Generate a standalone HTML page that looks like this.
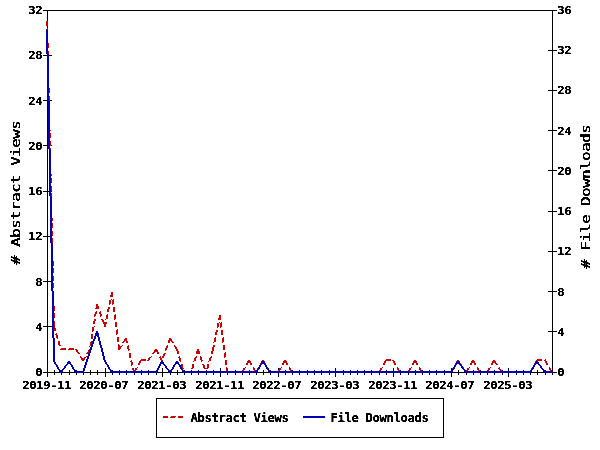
<!DOCTYPE html>
<html><head><meta charset="utf-8"><title>Usage statistics</title>
<style>html,body{margin:0;padding:0;background:#fff}svg{display:block;will-change:transform}text{fill:#000;text-anchor:middle}
.t{font-family:"DejaVu Sans Mono", "Liberation Mono", monospace;font-size:11px;font-weight:bold;stroke:#000;stroke-width:0.15px;}
.l{font-family:"DejaVu Sans Mono", "Liberation Mono", monospace;font-size:11.8px;font-weight:bold;stroke:#000;stroke-width:0.15px;}
.a{font-family:"DejaVu Sans Mono", "Liberation Mono", monospace;font-size:13px;font-weight:normal;stroke:#000;stroke-width:0.35px;}
</style></head>
<body><svg width="600" height="450" viewBox="0 0 600 450">
<defs><filter id="tf" x="0" y="0" width="600" height="450" filterUnits="userSpaceOnUse"><feComponentTransfer><feFuncA type="linear" slope="3" intercept="-0.9"/></feComponentTransfer></filter></defs>
<rect width="600" height="450" fill="#fff"/>
<path d="M43 10h514v1h-514zM47 11h1v44h-1zM552 11h1v39h-1zM548 50h9v1h-9zM552 51h1v39h-1zM43 55h9v1h-9zM47 56h1v44h-1zM548 90h9v1h-9zM552 91h1v39h-1zM43 100h9v1h-9zM47 101h1v44h-1zM548 130h9v1h-9zM552 131h1v39h-1zM43 145h9v1h-9zM47 146h1v45h-1zM548 170h9v1h-9zM552 171h1v40h-1zM43 191h9v1h-9zM47 192h1v44h-1zM548 211h9v1h-9zM552 212h1v39h-1zM43 236h9v1h-9zM47 237h1v44h-1zM548 251h9v1h-9zM552 252h1v39h-1zM43 281h9v1h-9zM47 282h1v44h-1zM548 291h9v1h-9zM552 292h1v39h-1zM43 326h9v1h-9zM47 327h1v45h-1zM548 331h9v1h-9zM552 332h1v40h-1zM105 368h1v4h-1zM162 368h1v4h-1zM220 368h1v4h-1zM278 368h1v4h-1zM335 368h1v4h-1zM393 368h1v4h-1zM451 368h1v4h-1zM508 368h1v4h-1zM54 370h1v2h-1zM61 370h1v2h-1zM69 370h1v2h-1zM76 370h1v2h-1zM83 370h1v2h-1zM90 370h1v2h-1zM97 370h1v2h-1zM112 370h1v2h-1zM119 370h1v2h-1zM126 370h1v2h-1zM134 370h1v2h-1zM141 370h1v2h-1zM148 370h1v2h-1zM156 370h1v2h-1zM170 370h1v2h-1zM177 370h1v2h-1zM184 370h1v2h-1zM191 370h1v2h-1zM198 370h1v2h-1zM206 370h1v2h-1zM213 370h1v2h-1zM227 370h1v2h-1zM235 370h1v2h-1zM242 370h1v2h-1zM249 370h1v2h-1zM256 370h1v2h-1zM263 370h1v2h-1zM270 370h1v2h-1zM285 370h1v2h-1zM292 370h1v2h-1zM299 370h1v2h-1zM307 370h1v2h-1zM314 370h1v2h-1zM321 370h1v2h-1zM329 370h1v2h-1zM343 370h1v2h-1zM350 370h1v2h-1zM357 370h1v2h-1zM364 370h1v2h-1zM371 370h1v2h-1zM379 370h1v2h-1zM386 370h1v2h-1zM400 370h1v2h-1zM408 370h1v2h-1zM415 370h1v2h-1zM422 370h1v2h-1zM429 370h1v2h-1zM436 370h1v2h-1zM444 370h1v2h-1zM458 370h1v2h-1zM466 370h1v2h-1zM473 370h1v2h-1zM480 370h1v2h-1zM487 370h1v2h-1zM494 370h1v2h-1zM502 370h1v2h-1zM516 370h1v2h-1zM523 370h1v2h-1zM530 370h1v2h-1zM537 370h1v2h-1zM545 370h1v2h-1zM43 372h514v1h-514zM47 373h1v4h-1zM54 373h1v2h-1zM61 373h1v2h-1zM69 373h1v2h-1zM76 373h1v2h-1zM83 373h1v2h-1zM90 373h1v2h-1zM97 373h1v2h-1zM105 373h1v4h-1zM112 373h1v2h-1zM119 373h1v2h-1zM126 373h1v2h-1zM134 373h1v2h-1zM141 373h1v2h-1zM148 373h1v2h-1zM156 373h1v2h-1zM162 373h1v4h-1zM170 373h1v2h-1zM177 373h1v2h-1zM184 373h1v2h-1zM191 373h1v2h-1zM198 373h1v2h-1zM206 373h1v2h-1zM213 373h1v2h-1zM220 373h1v4h-1zM227 373h1v2h-1zM235 373h1v2h-1zM242 373h1v2h-1zM249 373h1v2h-1zM256 373h1v2h-1zM263 373h1v2h-1zM270 373h1v2h-1zM278 373h1v4h-1zM285 373h1v2h-1zM292 373h1v2h-1zM299 373h1v2h-1zM307 373h1v2h-1zM314 373h1v2h-1zM321 373h1v2h-1zM329 373h1v2h-1zM335 373h1v4h-1zM343 373h1v2h-1zM350 373h1v2h-1zM357 373h1v2h-1zM364 373h1v2h-1zM371 373h1v2h-1zM379 373h1v2h-1zM386 373h1v2h-1zM393 373h1v4h-1zM400 373h1v2h-1zM408 373h1v2h-1zM415 373h1v2h-1zM422 373h1v2h-1zM429 373h1v2h-1zM436 373h1v2h-1zM444 373h1v2h-1zM451 373h1v4h-1zM458 373h1v2h-1zM466 373h1v2h-1zM473 373h1v2h-1zM480 373h1v2h-1zM487 373h1v2h-1zM494 373h1v2h-1zM502 373h1v2h-1zM508 373h1v4h-1zM516 373h1v2h-1zM523 373h1v2h-1zM530 373h1v2h-1zM537 373h1v2h-1zM545 373h1v2h-1zM552 373h1v2h-1zM156 398h288v1h-288zM156 399h1v38h-1zM443 399h1v38h-1zM156 437h288v1h-288z" fill="#000" shape-rendering="crispEdges"/>
<path d="M46 21h2v5h-2zM47 28h1v1h-1zM46 29h2v4h-2zM46 33h1v1h-1zM46 36h2v5h-2zM48 43h1v1h-1zM47 44h2v4h-2zM47 48h1v1h-1zM47 51h2v5h-2zM48 58h1v1h-1zM47 59h2v4h-2zM47 63h1v1h-1zM47 66h2v5h-2zM48 73h1v1h-1zM47 74h2v4h-2zM47 78h1v1h-1zM47 81h2v5h-2zM49 88h1v1h-1zM48 89h2v4h-2zM48 93h1v1h-1zM48 96h2v5h-2zM49 103h1v1h-1zM48 104h2v4h-2zM48 108h1v1h-1zM48 111h2v5h-2zM49 118h1v1h-1zM48 119h2v4h-2zM48 123h1v1h-1zM48 126h2v4h-2zM49 130h2v1h-2zM50 133h1v1h-1zM49 134h2v4h-2zM49 138h1v1h-1zM49 141h2v5h-2zM50 148h1v1h-1zM49 149h2v4h-2zM49 153h1v1h-1zM49 156h2v5h-2zM50 163h1v1h-1zM49 164h2v4h-2zM49 168h1v1h-1zM49 171h2v3h-2zM50 174h2v2h-2zM51 178h1v1h-1zM50 179h2v4h-2zM50 183h1v1h-1zM50 186h2v5h-2zM51 193h1v1h-1zM50 194h2v4h-2zM50 198h1v1h-1zM50 201h2v5h-2zM51 208h1v1h-1zM50 209h2v4h-2zM50 213h1v1h-1zM50 216h2v2h-2zM51 218h2v3h-2zM52 223h1v1h-1zM51 224h2v4h-2zM51 228h1v1h-1zM51 231h2v5h-2zM52 238h1v1h-1zM51 239h2v4h-2zM51 243h1v1h-1zM51 246h2v5h-2zM52 253h1v1h-1zM51 254h2v4h-2zM51 258h1v1h-1zM52 261h2v5h-2zM53 268h1v1h-1zM52 269h2v4h-2zM52 273h1v1h-1zM52 276h2v5h-2zM53 283h1v1h-1zM52 284h2v4h-2zM52 288h1v1h-1zM52 291h2v5h-2zM111 292h2v3h-2zM110 295h3v2h-3zM53 298h1v1h-1zM52 299h2v4h-2zM111 299h1v1h-1zM113 299h1v1h-1zM109 300h2v4h-2zM112 300h2v4h-2zM52 303h1v1h-1zM96 304h2v2h-2zM109 304h1v1h-1zM112 304h1v1h-1zM53 306h2v5h-2zM96 306h3v2h-3zM108 307h2v2h-2zM113 307h2v5h-2zM95 308h4v1h-4zM107 309h2v3h-2zM96 311h1v1h-1zM100 311h1v1h-1zM95 312h2v2h-2zM99 312h2v2h-2zM54 313h1v1h-1zM53 314h2v4h-2zM94 314h2v2h-2zM100 314h2v2h-2zM107 314h1v1h-1zM115 314h1v1h-1zM106 315h2v4h-2zM114 315h2v4h-2zM219 315h2v3h-2zM94 316h1v1h-1zM100 316h1v1h-1zM53 318h1v1h-1zM218 318h3v2h-3zM94 319h2v2h-2zM101 319h2v1h-2zM105 319h1v1h-1zM114 319h1v1h-1zM102 320h2v2h-2zM53 321h2v7h-2zM93 321h2v3h-2zM103 322h4v2h-4zM115 322h2v5h-2zM219 322h1v1h-1zM221 322h1v1h-1zM217 323h2v4h-2zM220 323h2v4h-2zM104 324h2v3h-2zM94 326h1v1h-1zM92 327h2v4h-2zM217 327h1v1h-1zM220 327h1v1h-1zM54 328h2v3h-2zM117 329h1v1h-1zM116 330h2v4h-2zM216 330h2v2h-2zM221 330h2v5h-2zM92 331h1v1h-1zM215 332h2v3h-2zM56 333h1v1h-1zM55 334h2v1h-2zM91 334h2v5h-2zM116 334h1v1h-1zM56 335h2v3h-2zM117 337h2v5h-2zM215 337h1v1h-1zM223 337h1v1h-1zM57 338h1v1h-1zM125 338h2v1h-2zM169 338h2v1h-2zM214 338h2v4h-2zM222 338h2v4h-2zM124 339h3v2h-3zM169 339h3v1h-3zM168 340h4v1h-4zM58 341h2v4h-2zM91 341h1v1h-1zM123 341h2v1h-2zM126 341h2v2h-2zM168 341h2v2h-2zM171 341h2v1h-2zM90 342h2v4h-2zM122 342h2v1h-2zM172 342h2v1h-2zM213 342h1v1h-1zM222 342h1v1h-1zM118 344h1v1h-1zM59 345h2v1h-2zM118 345h2v1h-2zM122 345h1v1h-1zM128 345h1v1h-1zM167 345h1v1h-1zM174 345h1v1h-1zM213 345h2v2h-2zM223 345h2v5h-2zM89 346h1v1h-1zM118 346h4v1h-4zM127 346h2v3h-2zM166 346h2v2h-2zM174 346h2v1h-2zM118 347h3v2h-3zM175 347h2v2h-2zM212 347h2v4h-2zM61 348h5v1h-5zM69 348h5v1h-5zM165 348h2v2h-2zM60 349h6v1h-6zM68 349h6v1h-6zM75 349h2v1h-2zM89 349h2v1h-2zM118 349h2v1h-2zM128 349h2v1h-2zM155 349h2v1h-2zM176 349h2v2h-2zM197 349h2v2h-2zM76 350h2v2h-2zM88 350h2v2h-2zM128 350h1v1h-1zM154 350h4v2h-4zM165 350h1v1h-1zM177 351h2v3h-2zM196 351h4v3h-4zM211 351h2v3h-2zM77 352h2v1h-2zM87 352h2v1h-2zM153 352h2v1h-2zM157 352h2v2h-2zM225 352h1v1h-1zM78 353h2v1h-2zM86 353h2v1h-2zM129 353h2v5h-2zM152 353h2v1h-2zM164 353h2v1h-2zM224 353h2v4h-2zM163 354h2v2h-2zM80 356h1v1h-1zM86 356h1v1h-1zM151 356h1v1h-1zM160 356h1v1h-1zM162 356h2v2h-2zM179 356h1v1h-1zM196 356h1v1h-1zM200 356h1v1h-1zM211 356h1v1h-1zM80 357h2v1h-2zM84 357h2v1h-2zM149 357h2v1h-2zM159 357h2v1h-2zM178 357h2v1h-2zM195 357h2v1h-2zM200 357h2v3h-2zM210 357h2v1h-2zM224 357h1v1h-1zM81 358h4v2h-4zM148 358h2v2h-2zM160 358h2v2h-2zM179 358h2v3h-2zM194 358h2v3h-2zM209 358h2v3h-2zM141 359h5v1h-5zM386 359h5v1h-5zM537 359h5v1h-5zM545 359h1v1h-1zM82 360h2v1h-2zM131 360h1v1h-1zM140 360h6v1h-6zM147 360h2v1h-2zM161 360h2v1h-2zM201 360h2v1h-2zM225 360h2v5h-2zM248 360h2v1h-2zM262 360h2v1h-2zM284 360h2v1h-2zM385 360h6v1h-6zM392 360h2v1h-2zM414 360h2v1h-2zM457 360h2v1h-2zM472 360h2v1h-2zM493 360h2v1h-2zM536 360h6v1h-6zM544 360h2v1h-2zM130 361h2v1h-2zM139 361h2v2h-2zM180 361h1v1h-1zM193 361h1v1h-1zM201 361h1v1h-1zM208 361h1v1h-1zM247 361h4v2h-4zM261 361h4v2h-4zM283 361h4v2h-4zM384 361h2v2h-2zM393 361h2v2h-2zM413 361h4v2h-4zM456 361h4v2h-4zM471 361h4v2h-4zM492 361h4v2h-4zM535 361h2v2h-2zM545 361h2v2h-2zM131 362h2v3h-2zM138 363h2v2h-2zM246 363h2v2h-2zM250 363h2v2h-2zM260 363h2v2h-2zM264 363h2v2h-2zM282 363h2v2h-2zM286 363h2v2h-2zM383 363h2v2h-2zM394 363h2v2h-2zM412 363h2v2h-2zM416 363h2v2h-2zM455 363h2v2h-2zM459 363h2v1h-2zM470 363h2v2h-2zM474 363h2v2h-2zM491 363h2v2h-2zM495 363h2v1h-2zM534 363h2v2h-2zM546 363h2v2h-2zM181 364h2v4h-2zM192 364h2v4h-2zM202 364h2v1h-2zM207 364h2v4h-2zM460 364h2v1h-2zM496 364h2v1h-2zM131 365h1v1h-1zM203 365h2v3h-2zM137 367h1v1h-1zM226 367h1v1h-1zM245 367h1v1h-1zM253 367h1v1h-1zM259 367h1v1h-1zM267 367h1v1h-1zM281 367h1v1h-1zM289 367h1v1h-1zM382 367h1v1h-1zM397 367h1v1h-1zM411 367h1v1h-1zM419 367h1v1h-1zM454 367h1v1h-1zM463 367h1v1h-1zM469 367h1v1h-1zM477 367h1v1h-1zM490 367h1v1h-1zM499 367h1v1h-1zM533 367h1v1h-1zM549 367h1v1h-1zM132 368h2v2h-2zM135 368h2v2h-2zM182 368h2v1h-2zM191 368h2v1h-2zM204 368h4v1h-4zM226 368h2v3h-2zM243 368h2v2h-2zM253 368h2v2h-2zM257 368h2v2h-2zM267 368h2v2h-2zM279 368h2v2h-2zM289 368h2v2h-2zM380 368h2v2h-2zM397 368h2v2h-2zM409 368h2v2h-2zM419 368h2v2h-2zM452 368h2v2h-2zM462 368h2v1h-2zM467 368h2v2h-2zM477 368h2v2h-2zM488 368h2v2h-2zM498 368h2v1h-2zM531 368h2v2h-2zM549 368h2v2h-2zM463 369h2v1h-2zM499 369h2v1h-2zM133 370h3v2h-3zM242 370h2v2h-2zM254 370h4v2h-4zM268 370h2v1h-2zM278 370h2v2h-2zM290 370h2v1h-2zM379 370h2v2h-2zM398 370h2v1h-2zM408 370h2v2h-2zM420 370h2v1h-2zM451 370h2v2h-2zM464 370h4v2h-4zM478 370h2v1h-2zM487 370h2v2h-2zM500 370h2v1h-2zM530 370h2v2h-2zM550 370h2v2h-2zM184 371h5v1h-5zM191 371h1v1h-1zM206 371h1v1h-1zM226 371h6v2h-6zM235 371h5v1h-5zM268 371h7v1h-7zM290 371h7v1h-7zM299 371h5v2h-5zM307 371h5v1h-5zM314 371h5v2h-5zM321 371h5v2h-5zM329 371h5v1h-5zM335 371h5v2h-5zM343 371h5v1h-5zM350 371h5v2h-5zM357 371h5v2h-5zM364 371h5v2h-5zM371 371h5v2h-5zM398 371h7v1h-7zM420 371h7v1h-7zM429 371h5v2h-5zM436 371h5v2h-5zM444 371h5v1h-5zM478 371h7v1h-7zM500 371h7v1h-7zM508 371h5v2h-5zM516 371h5v1h-5zM523 371h5v2h-5zM133 372h2v1h-2zM183 372h6v1h-6zM190 372h2v1h-2zM205 372h2v1h-2zM234 372h6v1h-6zM241 372h2v1h-2zM255 372h1v1h-1zM269 372h6v1h-6zM277 372h2v1h-2zM291 372h6v1h-6zM306 372h6v1h-6zM328 372h6v1h-6zM342 372h6v1h-6zM378 372h2v1h-2zM399 372h6v1h-6zM407 372h2v1h-2zM421 372h6v1h-6zM443 372h6v1h-6zM450 372h2v1h-2zM465 372h1v1h-1zM479 372h6v1h-6zM486 372h2v1h-2zM501 372h6v1h-6zM515 372h6v1h-6zM529 372h2v1h-2zM551 372h1v1h-1zM163 416h5v2h-5zM171 416h5v1h-5zM178 416h5v2h-5zM170 417h5v1h-5z" fill="#cc0000" shape-rendering="crispEdges"/>
<path d="M46 30h2v24h-2zM47 54h2v47h-2zM48 101h2v48h-2zM49 149h2v47h-2zM50 196h2v47h-2zM51 243h2v48h-2zM52 291h2v47h-2zM96 331h2v2h-2zM95 333h4v3h-4zM94 336h2v3h-2zM97 336h2v1h-2zM98 337h2v4h-2zM53 338h2v24h-2zM93 339h2v2h-2zM92 341h2v3h-2zM99 341h2v4h-2zM91 344h2v3h-2zM100 345h2v3h-2zM90 347h2v3h-2zM101 348h2v4h-2zM89 350h2v3h-2zM102 352h2v4h-2zM88 353h2v3h-2zM87 356h2v3h-2zM103 356h2v4h-2zM86 359h2v3h-2zM104 360h2v2h-2zM68 361h2v1h-2zM161 361h2v1h-2zM176 361h2v1h-2zM262 361h2v1h-2zM457 361h2v1h-2zM536 361h2v1h-2zM54 362h2v2h-2zM67 362h4v2h-4zM85 362h2v3h-2zM105 362h2v2h-2zM160 362h4v2h-4zM175 362h4v2h-4zM261 362h4v2h-4zM456 362h4v2h-4zM535 362h4v2h-4zM55 364h2v1h-2zM66 364h2v1h-2zM70 364h2v1h-2zM106 364h2v1h-2zM159 364h2v2h-2zM163 364h2v1h-2zM174 364h2v1h-2zM178 364h2v1h-2zM260 364h2v1h-2zM264 364h2v1h-2zM455 364h2v1h-2zM459 364h2v1h-2zM534 364h2v1h-2zM538 364h2v1h-2zM56 365h2v2h-2zM65 365h2v1h-2zM71 365h2v2h-2zM84 365h2v3h-2zM107 365h2v2h-2zM164 365h2v1h-2zM173 365h2v2h-2zM179 365h2v2h-2zM259 365h2v2h-2zM265 365h2v2h-2zM454 365h2v2h-2zM460 365h2v1h-2zM533 365h2v2h-2zM539 365h2v1h-2zM64 366h2v2h-2zM158 366h2v2h-2zM165 366h2v2h-2zM461 366h2v2h-2zM540 366h2v2h-2zM57 367h2v2h-2zM72 367h2v2h-2zM108 367h2v2h-2zM172 367h2v2h-2zM180 367h2v2h-2zM258 367h2v2h-2zM266 367h2v2h-2zM453 367h2v2h-2zM532 367h2v2h-2zM63 368h2v1h-2zM83 368h2v3h-2zM157 368h2v2h-2zM166 368h2v1h-2zM462 368h2v1h-2zM541 368h2v1h-2zM58 369h2v1h-2zM62 369h2v1h-2zM73 369h2v1h-2zM109 369h2v1h-2zM167 369h2v1h-2zM171 369h2v1h-2zM181 369h2v1h-2zM257 369h2v1h-2zM267 369h2v1h-2zM452 369h2v1h-2zM463 369h2v1h-2zM531 369h2v1h-2zM542 369h2v1h-2zM59 370h4v2h-4zM74 370h2v1h-2zM110 370h2v1h-2zM156 370h2v1h-2zM168 370h4v2h-4zM182 370h2v1h-2zM256 370h2v1h-2zM268 370h2v1h-2zM451 370h2v1h-2zM464 370h2v1h-2zM530 370h2v1h-2zM543 370h2v1h-2zM74 371h10v1h-10zM110 371h48v1h-48zM182 371h76v1h-76zM268 371h185v1h-185zM464 371h68v1h-68zM543 371h10v1h-10zM60 372h2v1h-2zM75 372h9v1h-9zM111 372h46v1h-46zM169 372h2v1h-2zM183 372h74v1h-74zM269 372h183v1h-183zM465 372h66v1h-66zM544 372h9v1h-9zM303 416h22v2h-22z" fill="#0000b4" shape-rendering="crispEdges"/>
<g filter="url(#tf)">
<text class="t" transform="translate(0,376) scale(1.12,1)" x="34.82" y="0">0</text>
<text class="t" transform="translate(0,331) scale(1.12,1)" x="34.82" y="0">4</text>
<text class="t" transform="translate(0,286) scale(1.12,1)" x="34.82" y="0">8</text>
<text class="t" transform="translate(0,240) scale(1.12,1)" x="28.57 34.82" y="0">12</text>
<text class="t" transform="translate(0,195) scale(1.12,1)" x="28.57 34.82" y="0">16</text>
<text class="t" transform="translate(0,150) scale(1.12,1)" x="28.57 34.82" y="0">20</text>
<text class="t" transform="translate(0,105) scale(1.12,1)" x="28.57 34.82" y="0">24</text>
<text class="t" transform="translate(0,59) scale(1.12,1)" x="28.57 34.82" y="0">28</text>
<text class="t" transform="translate(0,14) scale(1.12,1)" x="28.57 34.82" y="0">32</text>
<text class="t" transform="translate(0,376) scale(1.12,1)" x="500.89" y="0">0</text>
<text class="t" transform="translate(0,336) scale(1.12,1)" x="500.89" y="0">4</text>
<text class="t" transform="translate(0,296) scale(1.12,1)" x="500.89" y="0">8</text>
<text class="t" transform="translate(0,255) scale(1.12,1)" x="500.89 507.14" y="0">12</text>
<text class="t" transform="translate(0,215) scale(1.12,1)" x="500.89 507.14" y="0">16</text>
<text class="t" transform="translate(0,175) scale(1.12,1)" x="500.89 507.14" y="0">20</text>
<text class="t" transform="translate(0,135) scale(1.12,1)" x="500.89 507.14" y="0">24</text>
<text class="t" transform="translate(0,94) scale(1.12,1)" x="500.89 507.14" y="0">28</text>
<text class="t" transform="translate(0,54) scale(1.12,1)" x="500.89 507.14" y="0">32</text>
<text class="t" transform="translate(0,14) scale(1.12,1)" x="500.89 507.14" y="0">36</text>
<text class="t" transform="translate(0,389) scale(1.12,1)" x="23.21 29.46 35.71 41.96 48.21 54.46 60.71" y="0">2019-11</text>
<text class="t" transform="translate(0,389) scale(1.12,1)" x="74.11 80.36 86.61 92.86 99.11 105.36 111.61" y="0">2020-07</text>
<text class="t" transform="translate(0,389) scale(1.12,1)" x="125.89 132.14 138.39 144.64 150.89 157.14 163.39" y="0">2021-03</text>
<text class="t" transform="translate(0,389) scale(1.12,1)" x="177.68 183.93 190.18 196.43 202.68 208.93 215.18" y="0">2021-11</text>
<text class="t" transform="translate(0,389) scale(1.12,1)" x="228.57 234.82 241.07 247.32 253.57 259.82 266.07" y="0">2022-07</text>
<text class="t" transform="translate(0,389) scale(1.12,1)" x="280.36 286.61 292.86 299.11 305.36 311.61 317.86" y="0">2023-03</text>
<text class="t" transform="translate(0,389) scale(1.12,1)" x="332.14 338.39 344.64 350.89 357.14 363.39 369.64" y="0">2023-11</text>
<text class="t" transform="translate(0,389) scale(1.12,1)" x="383.04 389.29 395.54 401.79 408.04 414.29 420.54" y="0">2024-07</text>
<text class="t" transform="translate(0,389) scale(1.12,1)" x="434.82 441.07 447.32 453.57 459.82 466.07 472.32" y="0">2025-03</text>
<text class="l" transform="translate(0,422) scale(1.04,1)" x="186.83 193.56 200.29 207.02 213.75 220.48 227.21 233.94 240.67 247.4 254.13 260.87 267.6 274.33" y="0">Abstract Views</text>
<text class="l" transform="translate(0,422) scale(1.04,1)" x="321.44 328.17 334.9 341.63 348.37 355.1 361.83 368.56 375.29 382.02 388.75 395.48 402.21 408.94" y="0">File Downloads</text>
<g transform="translate(20.2,264.5) rotate(-90)"><text class="a" transform="translate(0,0) scale(1.2,1)" x="3.75 11.25 18.75 26.25 33.75 41.25 48.75 56.25 63.75 71.25 78.75 86.25 93.75 101.25 108.75 116.25" y="0"># Abstract Views</text></g>
<g transform="translate(590.2,268.5) rotate(-90)"><text class="a" transform="translate(0,0) scale(1.2,1)" x="3.75 11.25 18.75 26.25 33.75 41.25 48.75 56.25 63.75 71.25 78.75 86.25 93.75 101.25 108.75 116.25" y="0"># File Downloads</text></g>
</g>
</svg></body></html>
